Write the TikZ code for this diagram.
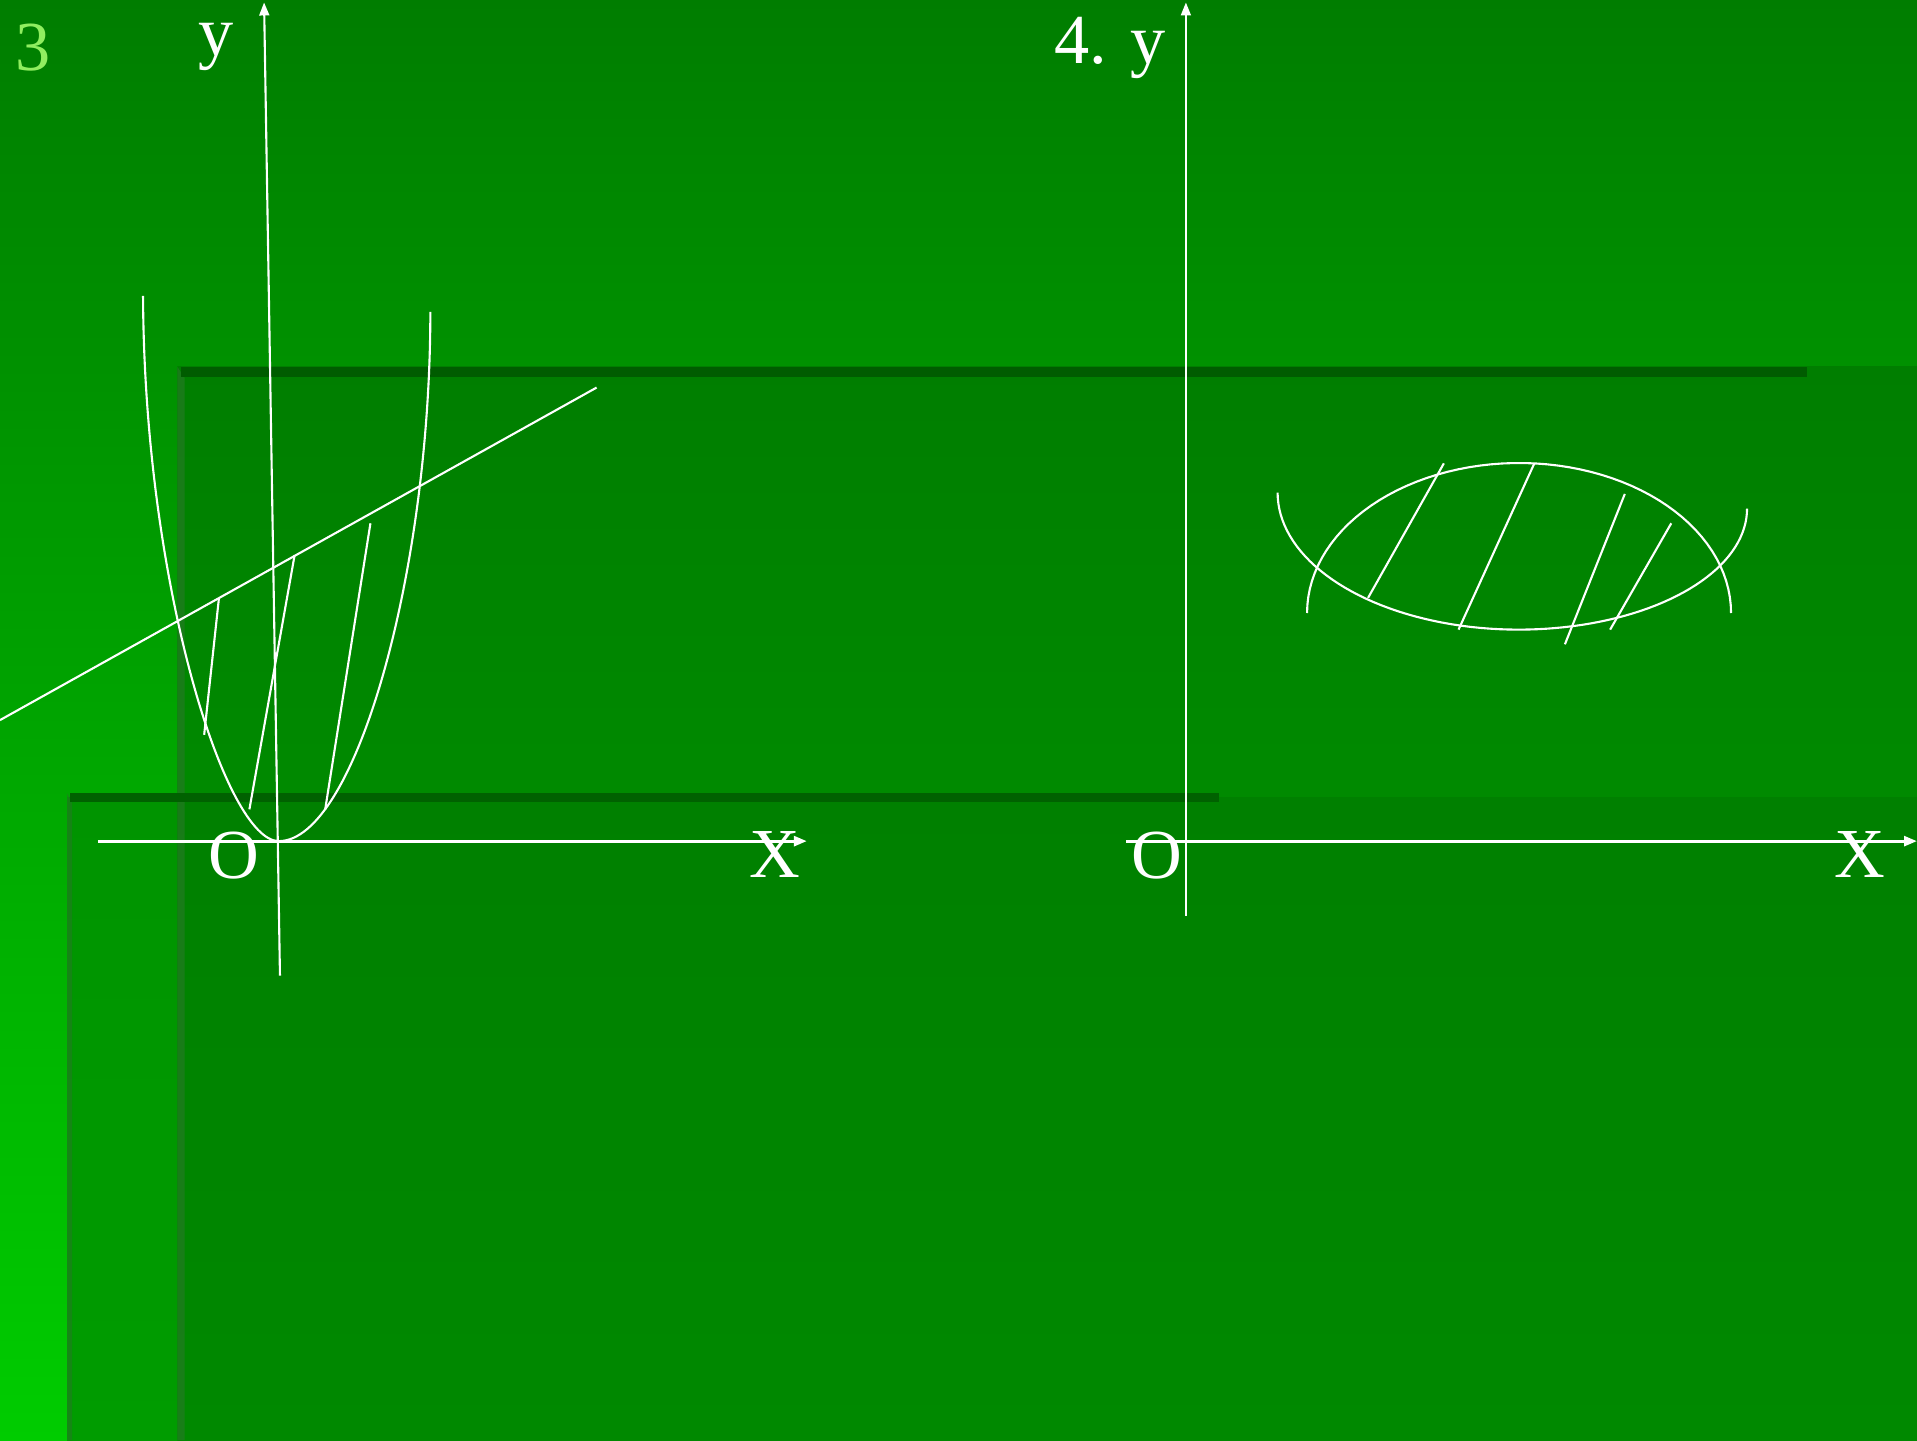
\documentclass[tikz,border=0pt]{standalone}
\usepackage{fontspec}
\setmainfont{Liberation Serif}
\usetikzlibrary{arrows.meta}
\definecolor{bgtop}{HTML}{007D00}
\definecolor{bgbot}{HTML}{00CC00}
\definecolor{paneup}{HTML}{007E00}
\definecolor{paneupb}{HTML}{008A00}
\definecolor{panelo}{HTML}{008000}
\definecolor{panelob}{HTML}{008900}
\definecolor{stripl}{HTML}{009400}
\definecolor{striplb}{HTML}{009C00}
\definecolor{bevel}{HTML}{237A23}
\definecolor{barcol}{HTML}{005C00}
\definecolor{numgreen}{HTML}{90EE60}

\begin{document}
\begin{tikzpicture}[
  x=1.2226cm, y=-1.2226cm, >={Triangle[length=3.7pt,width=2.8pt]},
  lbl/.style={font=\fontsize{20}{24}\selectfont, text=white, inner sep=0pt},
  axis/.style={->, white, line width=0.6pt},
  xaxis/.style={axis, line width=0.85pt},
  curve/.style={white, line width=0.6pt},
  hatch/.style={white, line width=0.6pt},
]
\useasboundingbox (0,0) rectangle (15.68,11.78);
% background panes
\fill[top color=bgtop,bottom color=bgbot] (0,0) rectangle (15.68,11.78);
\fill[top color=stripl,bottom color=striplb] (0.55,6.52) rectangle (15.68,11.78);
\fill[top color=paneup,bottom color=paneupb] (1.45,3.0) rectangle (15.68,6.52);
\fill[top color=panelo,bottom color=panelob] (1.45,6.52) rectangle (15.68,11.78);
\fill[bevel,opacity=0.7] (1.45,3.0) -- (1.51,3.09) -- (1.51,11.78) -- (1.45,11.78) -- cycle;
\fill[bevel,opacity=0.6] (0.55,6.49) -- (0.59,6.57) -- (0.59,11.78) -- (0.55,11.78) -- cycle;
\fill[barcol] (1.48,3.0) rectangle (14.78,3.08);
\fill[barcol!85!panelo] (0.57,6.49) rectangle (9.97,6.56);

% plot 3
\node[lbl,text=numgreen] (n3) at (0.27,0.39) {3};
\node[lbl] (yL) at (1.77,0.38) {y};
\coordinate (yLb) at (2.29,7.98); \coordinate (yLt) at (2.16,0.02);
\coordinate (xLa) at (0.80,6.88); \coordinate (xLb) at (6.60,6.88);
\draw[axis] (yLb) -- (yLt);
\draw[xaxis] (xLa) -- (xLb);
\node[lbl] (oL) at (1.91,7.00) {O};
\node[lbl] (xL) at (6.34,6.99) {X};
\coordinate (vL) at (2.28,6.88);
\draw[curve] (1.17,2.42) .. controls (1.18,4.80) and (1.85,6.88) .. (vL)
  .. controls (2.90,6.88) and (3.52,4.70) .. (3.52,2.55);
\coordinate (ln1) at (0,5.89); \coordinate (ln2) at (4.88,3.17);
\draw[curve] (ln1) -- (ln2);
\foreach \a/\b in {{1.67,6.01}/{1.79,4.90},{2.04,6.62}/{2.41,4.54},{2.66,6.62}/{3.03,4.28}}
  {\draw[hatch] (\a) -- (\b);}

% plot 4
\node[lbl] (n4) at (9.08,0.39) {4. y};
\coordinate (yRb) at (9.70,7.49); \coordinate (yRt) at (9.70,0.02);
\coordinate (xRa) at (9.21,6.88); \coordinate (xRb) at (15.68,6.88);
\draw[axis] (yRb) -- (yRt);
\draw[xaxis] (xRa) -- (xRb);
\node[lbl] (oR) at (9.46,7.00) {O};
\node[lbl] (xR) at (15.21,6.99) {X};
\draw[curve] plot[domain=0:180,samples=60] ({12.425+1.734*cos(\x)},{5.014-1.227*sin(\x)});
\draw[curve] plot[domain=180:90,samples=40] ({12.42+1.97*cos(\x)},{4.03+1.12*sin(\x)})
  -- plot[domain=90:0,samples=40] ({12.42+1.87*cos(\x)},{4.16+0.99*sin(\x)});
\foreach \a/\b in {{11.19,4.89}/{11.81,3.79},{11.93,5.15}/{12.55,3.79},{12.80,5.27}/{13.29,4.04},{13.17,5.15}/{13.67,4.28}}
  {\draw[hatch] (\a) -- (\b);}
\end{tikzpicture}
\end{document}
